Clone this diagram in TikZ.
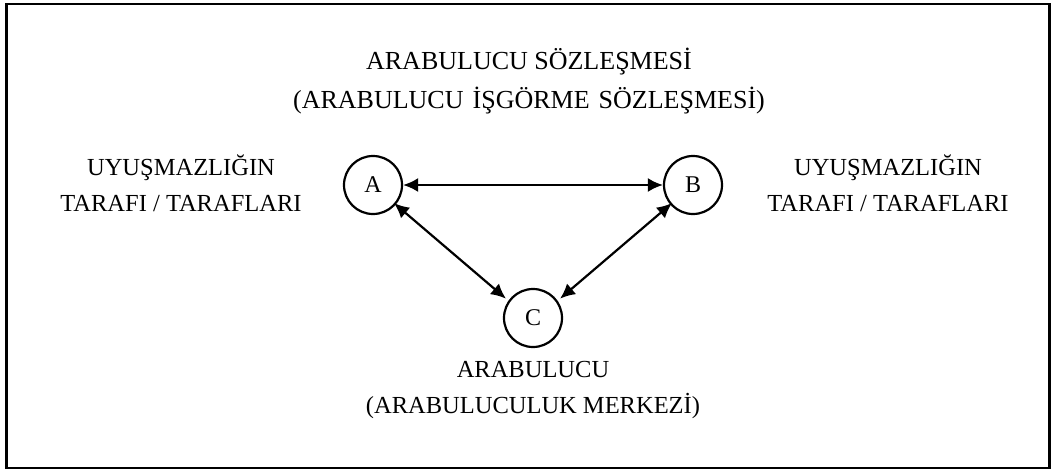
\documentclass[tikz,border=0pt]{standalone}
\usepackage{fontspec}
\setmainfont{Liberation Serif}
\usetikzlibrary{arrows.meta}
\begin{document}
\begin{tikzpicture}[x=1pt,y=-1pt,
  lbl/.style={align=center,font=\fontsize{24.5}{36}\selectfont,inner sep=0pt},
  ttl/.style={align=center,font=\fontsize{26}{39}\selectfont,inner sep=0pt},
  circ/.style={circle,draw,line width=2.2pt,minimum size=58pt,inner sep=0pt,font=\fontsize{24}{26}\selectfont},
  conn/.style={line width=2.2pt,{Latex[length=15pt,width=14pt]}-{Latex[length=15pt,width=14pt]}}]
\useasboundingbox (0,0) rectangle (1054,471);
\node[draw,line width=2.8pt,minimum width=1043pt,minimum height=464pt,inner sep=0pt] (frame) at (528,236) {};
\node[ttl,text depth=0pt] (title) at (529,78) {ARABULUCU SÖZLEŞMESİ\\(ARABULUCU\hspace{0.1em} İŞGÖRME\hspace{0.1em} SÖZLEŞMESİ)};
\node[circ] (A) at (373,185) {A};
\node[circ] (B) at (693,185) {B};
\node[circ] (C) at (533,318) {C};
\node[lbl] (la) at (181,183) {UYUŞMAZLIĞIN\\TARAFI / TARAFLARI};
\node[lbl] (lb) at (888,183) {UYUŞMAZLIĞIN\\TARAFI / TARAFLARI};
\node[lbl] (lc) at (533,390) {ARABULUCU\\(ARABULUCULUK MERKEZİ)};
\draw[conn] (A) -- (B);
\draw[conn] ([shift={(-3,0)}]A.-37) -- ([shift={(-4,0)}]C.140);
\draw[conn] ([shift={(3,0)}]B.-143) -- ([shift={(4,0)}]C.40);
\end{tikzpicture}
\end{document}
